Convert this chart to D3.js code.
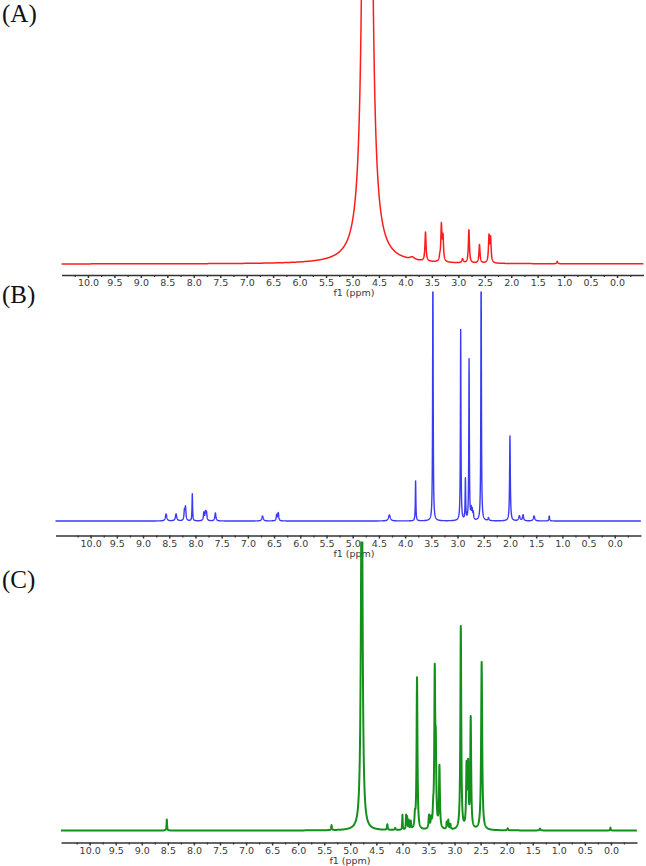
<!DOCTYPE html>
<html>
<head>
<meta charset="utf-8">
<script src="https://cdnjs.cloudflare.com/ajax/libs/d3/7.8.5/d3.min.js"></script>
<style>
  body { margin: 0; background: #fff; }
  .tick text { font-family: "DejaVu Sans", Verdana, sans-serif; font-size: 9.5px; fill: #3a3a3a; }
</style>
</head>
<body>
<div id="canvas"></div>
<script>
// peak lists: chemical shift (ppm), height (a.u.), half width (ppm)
let shiftsA = [4.72, 3.87, 3.62, 3.35, 3.32, 3.29, 2.92, 2.80, 2.60, 2.42, 2.39, 1.13];
let heightsA = [29700, 2.5, 29, 4, 36, 24, 4, 33, 18.5, 26, 24, 2.5];
let widthsA = [0.0107, 0.05, 0.012, 0.01, 0.012, 0.012, 0.015, 0.012, 0.012, 0.012, 0.012, 0.01];

let shiftsB = [8.56, 8.37, 8.21, 8.19, 8.06, 7.84, 7.81, 7.79, 7.62, 6.72, 6.45, 6.42,
  4.30, 3.80, 3.47, 2.94, 2.85, 2.78, 2.74, 2.72, 2.70, 2.55, 2.41, 2.00, 1.82, 1.75, 1.54, 1.25];
let heightsB = [7, 7, 10, 13, 27, 8, 8, 8, 8, 5, 6, 8,
  6, 40, 260, 191, 41, 161, 10, 9, 7, 260, 3, 85, 5, 6, 5, 5];
let widthsB = [0.015, 0.015, 0.01, 0.01, 0.006, 0.01, 0.01, 0.01, 0.012, 0.015, 0.01, 0.01,
  0.02, 0.006, 0.006, 0.006, 0.006, 0.006, 0.008, 0.008, 0.008, 0.006, 0.01, 0.008, 0.015, 0.012, 0.015, 0.008];

let shiftsC = [8.52, 5.36, 4.78, 4.29, 4.14, 4.00, 3.93, 3.91, 3.88, 3.84, 3.76, 3.72,
  3.49, 3.45, 3.41, 3.38, 3.36, 3.29, 3.15, 3.12, 3.08, 2.88, 2.77, 2.74, 2.69, 2.48, 1.98, 1.36, 0.01];
let heightsC = [11, 5, 400, 5.5, 2, 15, 14, 12, 9, 8, 12, 152,
  13, 9, 14, 150, 70, 62, 7, 9, 5, 203, 60, 60, 110, 168, 2, 2, 3];
let widthsC = [0.006, 0.008, 0.018, 0.008, 0.01, 0.006, 0.006, 0.006, 0.006, 0.008, 0.01, 0.01,
  0.01, 0.01, 0.01, 0.01, 0.01, 0.01, 0.008, 0.008, 0.008, 0.01, 0.01, 0.01, 0.01, 0.012, 0.01, 0.01, 0.006];

let tickLabels = [10.0, 9.5, 9.0, 8.5, 8.0, 7.5, 7.0, 6.5, 6.0, 5.5, 5.0, 4.5, 4.0, 3.5, 3.0, 2.5, 2.0, 1.5, 1.0, 0.5, 0.0];
let panelLabels = ['(A)', '(B)', '(C)'];
let axisTitle = 'f1 (ppm)';

let panels = [
  { shifts: shiftsA, heights: heightsA, widths: widthsA, color: '#ff1c1c', lw: 1.5,
    domain: [10.5, -0.5], range: [61.5, 643.5], base: 264, top: 0, axisY: 275, titleX: 354, titleY: 296, labelY: 22 },
  { shifts: shiftsB, heights: heightsB, widths: widthsB, color: '#3b3bf5', lw: 1.4,
    domain: [10.67, -0.5], range: [55.5, 641], base: 521, top: 291.5, axisY: 535.5, titleX: 354, titleY: 557, labelY: 303 },
  { shifts: shiftsC, heights: heightsC, widths: widthsC, color: '#13901c', lw: 2,
    domain: [10.55, -0.5], range: [61, 637], base: 830.5, top: 541.5, axisY: 842.5, titleX: 350, titleY: 864, labelY: 588 }
];

let svg = d3.select('#canvas').append('svg')
  .attr('width', 646)
  .attr('height', 866)
  .style('display', 'block');

panels.forEach(function(p, i) {
  let x = d3.scaleLinear().domain(p.domain).range(p.range);
  let y = d3.scaleLinear().domain([0, 100]).range([p.base, p.base - 100]);

  // lorentzian sum over the peak list
  let grid = d3.range(p.domain[0], p.domain[1], -0.002);
  let trace = grid.map(function(v) {
    let s = 0;
    for (let k = 0; k < p.shifts.length; k++) {
      let w2 = p.widths[k] * p.widths[k];
      let d = v - p.shifts[k];
      s += p.heights[k] * w2 / (w2 + d * d);
    }
    return [v, s];
  });

  svg.append('clipPath')
    .attr('id', 'clip' + i)
    .append('rect')
    .attr('x', 0)
    .attr('y', p.top)
    .attr('width', 646)
    .attr('height', p.base - p.top + 10);

  let line = d3.line()
    .x(function(d) { return x(d[0]); })
    .y(function(d) { return y(d[1]); });

  svg.append('path')
    .datum(trace)
    .attr('clip-path', 'url(#clip' + i + ')')
    .attr('fill', 'none')
    .attr('stroke', p.color)
    .attr('stroke-width', p.lw)
    .attr('stroke-linejoin', 'round')
    .attr('d', line);

  // axis: labelled ticks every 0.5 ppm, minor ones in between
  let minor = tickLabels.map(function(t) { return t + 0.25; })
    .concat([-0.25])
    .filter(function(t) { return t <= p.domain[0] && t >= p.domain[1]; });

  let gMinor = svg.append('g')
    .attr('transform', 'translate(0,' + p.axisY + ')')
    .call(d3.axisBottom(x).tickValues(minor).tickSize(2).tickSizeOuter(0).tickFormat(''));
  gMinor.select('.domain').remove();
  gMinor.selectAll('line').attr('stroke', '#333').attr('stroke-width', 1.3);

  let gAxis = svg.append('g')
    .attr('transform', 'translate(0,' + p.axisY + ')')
    .call(d3.axisBottom(x).tickValues(tickLabels).tickSize(3).tickPadding(1.5)
      .tickSizeOuter(0).tickFormat(d3.format('.1f')));
  gAxis.select('.domain').attr('stroke', '#333').attr('stroke-width', 1.4);
  gAxis.selectAll('line').attr('stroke', '#333').attr('stroke-width', 1.5);

  svg.append('text')
    .attr('x', p.titleX)
    .attr('y', p.titleY)
    .attr('text-anchor', 'middle')
    .style('font-family', '"DejaVu Sans", Verdana, sans-serif')
    .style('font-size', '9.5px')
    .style('fill', '#3a3a3a')
    .text(axisTitle);

  svg.append('text')
    .attr('x', 2)
    .attr('y', p.labelY)
    .style('font-family', '"Liberation Serif", "Times New Roman", serif')
    .style('font-size', '25px')
    .style('fill', '#111')
    .text(panelLabels[i]);
});
</script>
</body>
</html>
